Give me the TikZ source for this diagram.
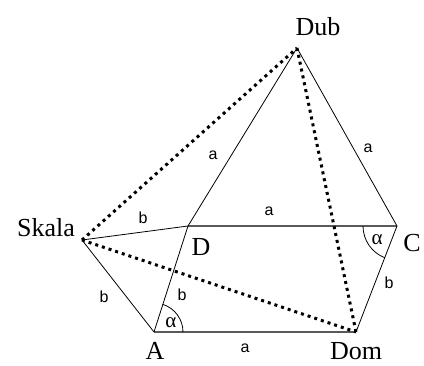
\documentclass[tikz,border=0pt]{standalone}
\usepackage{fontspec}
\setmainfont{Liberation Serif}
\newfontfamily\sidefont{Liberation Sans}
\begin{document}
\begin{tikzpicture}[x=1pt,y=1pt,font=\fontsize{26}{30}\selectfont]
  \tikzset{
    place/.style={inner sep=0pt},
    side/.style={font=\sidefont\fontsize{16}{18}\selectfont},
    angle/.style={font=\fontsize{21}{24}\selectfont},
    edge/.style={line width=0.8pt},
    flat/.style={line width=1.5pt,black!65},
    road/.style={line width=3pt,dash pattern=on 3pt off 4pt}
  }
  \useasboundingbox (0,0) rectangle (424,365);

  \coordinate (dub) at (297,317);
  \coordinate (skala) at (82,125);
  \coordinate (d) at (188,139);
  \coordinate (c) at (397,139);
  \coordinate (a) at (154,33);
  \coordinate (dom) at (356,33);

  % Mjesta
  \node[place] (ldub) at (318,338) {Dub};
  \node[place] (lskala) at (46,137) {Skala};
  \node[place] (ld) at (201,118) {D};
  \node[place] (lc) at (412,122) {C};
  \node[place] (la) at (155,14) {A};
  \node[place] (ldom) at (356,14) {Dom};

  % Stranice
  \draw[flat] (d) -- (c);
  \draw[flat] (a) -- (dom);
  \draw[edge] (skala) -- (d);
  \draw[edge] (skala) -- (a);
  \draw[edge] (a) -- (d);
  \draw[edge] (dom) -- (c);
  \draw[edge] (d) -- (dub);
  \draw[edge] (c) -- (dub);

  % Putevi
  \draw[road] (skala) -- (dub);
  \draw[road] (skala) -- (dom);
  \draw[road] (dub) -- (dom);

  % Kutovi
  \draw[edge] ([shift={(0:29)}]a) arc (0:72:29);
  \draw[edge] ([shift={(180:34)}]c) arc (180:249:34);
  \node[angle] (alfaa) at (171,42) {α};
  \node[angle] (alfac) at (377,125) {α};

  % Oznake stranica
  \node[side] (bsd) at (143,147) {b};
  \node[side] (bsa) at (104,68) {b};
  \node[side] (bad) at (182,70) {b};
  \node[side] (adc) at (269,154) {a};
  \node[side] (badom) at (389,82) {b};
  \node[side] (aadom) at (245,17) {a};
  \node[side] (addub) at (213,210) {a};
  \node[side] (acdub) at (368,217) {a};
\end{tikzpicture}
\end{document}
